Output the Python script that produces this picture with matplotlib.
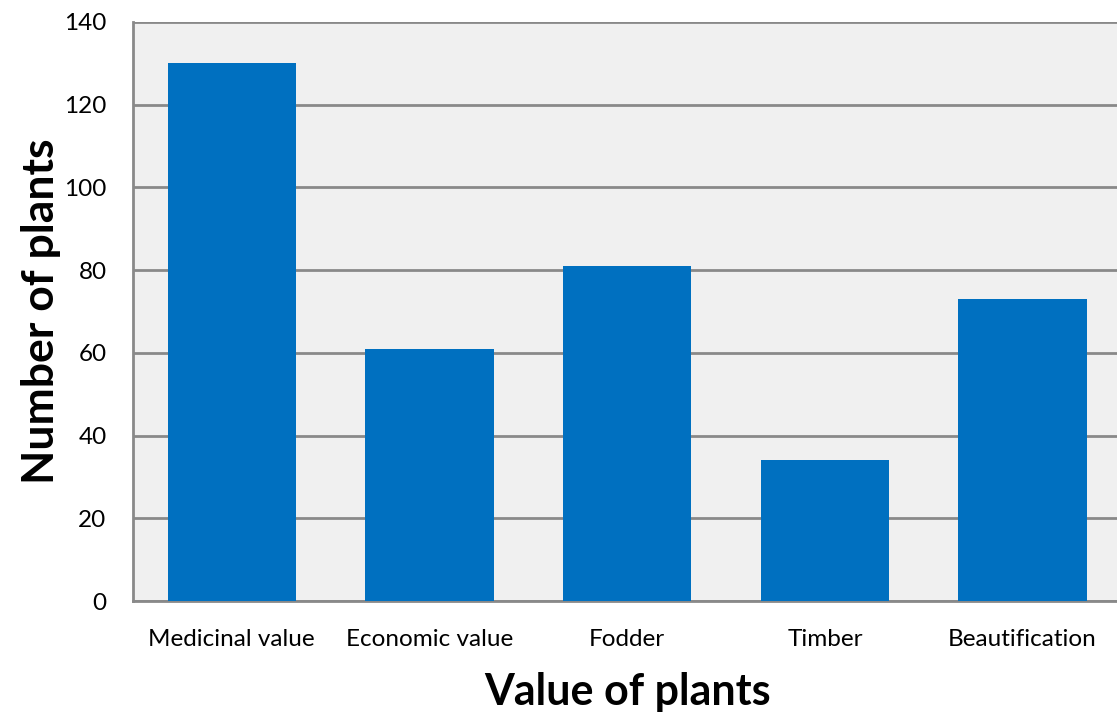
import numpy as np
import matplotlib.pyplot as plt

plt.rcParams['font.family'] = ['Lato', 'DejaVu Sans']

# Data
categories = ['Medicinal value', 'Economic value', 'Fodder', 'Timber', 'Beautification']
counts = [130, 61, 81, 34, 73]

fig = plt.figure(figsize=(11.17, 7.16), dpi=100)
ax = fig.add_axes([0.119, 0.1606, 0.885, 0.8087])

x = np.arange(len(categories))
ax.bar(x, counts, width=0.65, color='#0070C0', zorder=3)

ax.set_facecolor('#F0F0F0')
ax.set_xlim(-0.5, len(categories) - 0.5)
ax.set_ylim(0, 140)
ax.set_yticks(np.arange(0, 141, 20))
ax.yaxis.grid(True, color='#898989', linewidth=2, zorder=1)

for side in ['top', 'right']:
    ax.spines[side].set_visible(False)
for side in ['left', 'bottom']:
    ax.spines[side].set_color('#898989')
    ax.spines[side].set_linewidth(2)

ax.set_xticks(x)
ax.set_xticklabels(categories)
ax.tick_params(axis='both', length=0, labelsize=17.5, colors='black')
ax.tick_params(axis='x', pad=20)
ax.tick_params(axis='y', pad=19)

ax.set_xlabel('Value of plants', fontsize=31, fontweight='bold', labelpad=16)
ax.set_ylabel('Number of plants', fontsize=32, fontweight='bold', labelpad=2)

fig.savefig('out.png', dpi=100)
